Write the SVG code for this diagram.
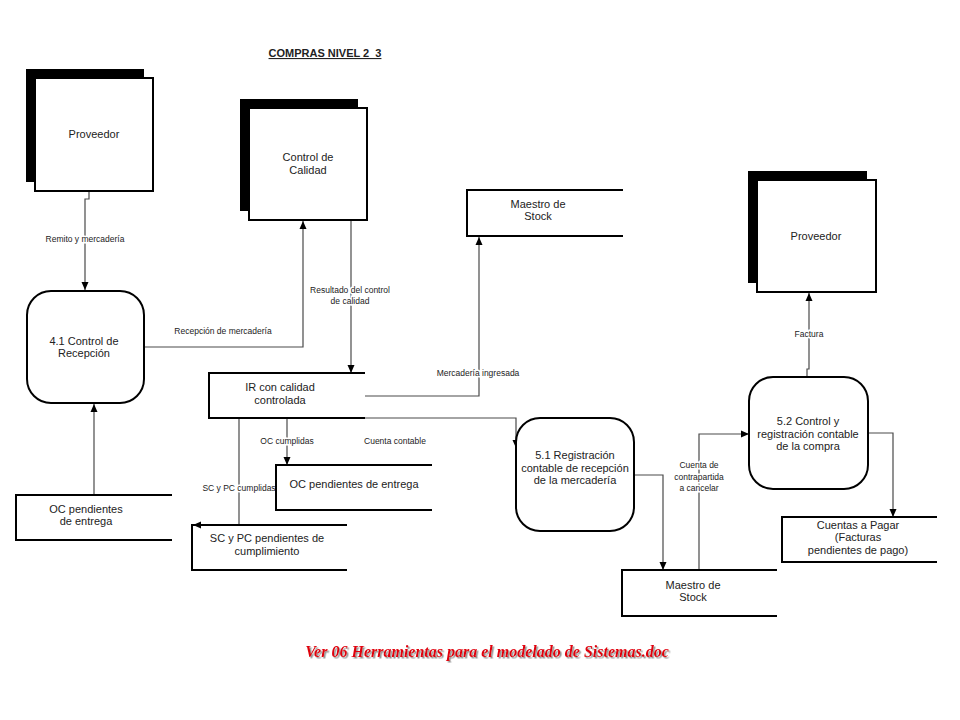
<svg xmlns="http://www.w3.org/2000/svg" width="960" height="720" viewBox="0 0 960 720">
<defs>
<marker id="arr" markerUnits="userSpaceOnUse" markerWidth="9" markerHeight="8" refX="8" refY="4" orient="auto">
<path d="M0,0.5 L8,4 L0,7.5 z" fill="#000"/>
</marker>
<filter id="sh" x="-5%" y="-30%" width="110%" height="160%">
<feDropShadow dx="1.5" dy="1.5" stdDeviation="0.6" flood-color="#888" flood-opacity="0.9"/>
</filter>
<style>
.shadow{fill:#000}
.ent{fill:#fff;stroke:#000;stroke-width:2}
.proc{fill:#fff;stroke:#000;stroke-width:2}
.store{fill:none;stroke:#000;stroke-width:2}
.t{font-family:"Liberation Sans",Arial,sans-serif;font-size:11px;fill:#222;text-anchor:middle}
.lbl{font-family:"Liberation Sans",Arial,sans-serif;font-size:8.5px;fill:#222;text-anchor:middle;stroke:#fff;stroke-width:3;paint-order:stroke}
.flow{fill:none;stroke:#4a4a4a;stroke-width:1.2;marker-end:url(#arr)}
</style>
</defs>
<rect width="960" height="720" fill="#fff"/>

<text x="325" y="57" font-family="Liberation Sans,Arial,sans-serif" font-size="11" font-weight="bold" fill="#222" text-anchor="middle" text-decoration="underline">COMPRAS NIVEL 2&#160; 3</text>

<g id="connectors">
<path class="flow" d="M89,191 V199 H85 V290"/>
<path class="flow" d="M144,347 H303 V221"/>
<path class="flow" d="M351,220 V373"/>
<path class="flow" d="M365,396 H479 V237"/>
<path class="flow" d="M365,418 H516 V448"/>
<path class="flow" d="M287,418 V465"/>
<path class="flow" d="M239,418 V525 H193"/>
<path class="flow" d="M94,495 V404"/>
<path class="flow" d="M634,475 H663 V570"/>
<path class="flow" d="M699,570 V434 H749"/>
<path class="flow" d="M807,377 V369 H809 V293"/>
<path class="flow" d="M868,433 H893 V517"/>
<text class="lbl" x="85" y="242">Remito y mercadería</text>
<text class="lbl" x="223" y="334">Recepción de mercadería</text>
<text class="lbl" x="350" y="293">Resultado del control</text>
<text class="lbl" x="350" y="304">de calidad</text>
<text class="lbl" x="478" y="376">Mercadería ingresada</text>
<text class="lbl" x="287" y="444">OC cumplidas</text>
<text class="lbl" x="395" y="444">Cuenta contable</text>
<text class="lbl" x="239" y="491">SC y PC cumplidas</text>
<text class="lbl" x="699" y="468">Cuenta de</text>
<text class="lbl" x="699" y="480">contrapartida</text>
<text class="lbl" x="699" y="491">a cancelar</text>
<text class="lbl" x="809" y="337">Factura</text>
</g>

<g id="proveedor1">
<rect class="shadow" x="26" y="69" width="118" height="113"/>
<rect class="ent" x="35" y="78" width="118" height="113"/>
<text class="t" x="94" y="138">Proveedor</text>
</g>

<g id="control-calidad">
<rect class="shadow" x="240" y="99" width="118" height="112"/>
<rect class="ent" x="249" y="108" width="118" height="112"/>
<text class="t" x="308" y="161">Control de</text>
<text class="t" x="308" y="174">Calidad</text>
</g>

<g id="maestro-stock1">
<path class="store" d="M623,190 H467 V236 H623"/>
<text class="t" x="538" y="208">Maestro de</text>
<text class="t" x="538" y="220">Stock</text>
</g>

<g id="proveedor2">
<rect class="shadow" x="748" y="171" width="119" height="112"/>
<rect class="ent" x="757" y="180" width="119" height="112"/>
<text class="t" x="816" y="240">Proveedor</text>
</g>

<g id="p41">
<rect class="proc" x="27" y="291" width="117" height="112" rx="24"/>
<text class="t" x="84" y="345">4.1 Control de</text>
<text class="t" x="84" y="357">Recepción</text>
</g>

<g id="ir">
<path class="store" d="M365,373 H209 V418 H365"/>
<text class="t" x="280" y="391">IR con calidad</text>
<text class="t" x="280" y="404">controlada</text>
</g>

<g id="oc-pend2">
<path class="store" d="M432,465 H276 V510 H432"/>
<text class="t" x="354" y="488" font-size="11.5">OC pendientes de entrega</text>
</g>

<g id="sc-pc">
<path class="store" d="M347,525 H192 V570 H347"/>
<text class="t" x="267" y="542">SC y PC pendientes de</text>
<text class="t" x="267" y="555">cumplimiento</text>
</g>

<g id="oc-pend1">
<path class="store" d="M172,495 H16 V540 H172"/>
<text class="t" x="86" y="513">OC pendientes</text>
<text class="t" x="86" y="525">de entrega</text>
</g>

<g id="p51">
<rect class="proc" x="516" y="418" width="118" height="113" rx="24"/>
<text class="t" x="575" y="459">5.1 Registración</text>
<text class="t" x="575" y="472">contable de recepción</text>
<text class="t" x="575" y="484">de la mercadería</text>
</g>

<g id="maestro-stock2">
<path class="store" d="M777,570 H622 V616 H777"/>
<text class="t" x="693" y="589">Maestro de</text>
<text class="t" x="693" y="601">Stock</text>
</g>

<g id="p52">
<rect class="proc" x="749" y="377" width="119" height="112" rx="24"/>
<text class="t" x="808" y="425">5.2 Control y</text>
<text class="t" x="808" y="438">registración contable</text>
<text class="t" x="808" y="450">de la compra</text>
</g>

<g id="cuentas-pagar">
<path class="store" d="M937,517 H782 V562 H937"/>
<text class="t" x="858" y="529">Cuentas a Pagar</text>
<text class="t" x="858" y="541">(Facturas</text>
<text class="t" x="858" y="554">pendientes de pago)</text>
</g>

<g id="footer">
<text x="487" y="657" font-family="Liberation Serif,Times New Roman,serif" font-size="16" font-weight="bold" font-style="italic" text-anchor="middle" fill="#e0000b" filter="url(#sh)">Ver 06 Herramientas para el modelado de Sistemas.doc</text>
</g>
</svg>
